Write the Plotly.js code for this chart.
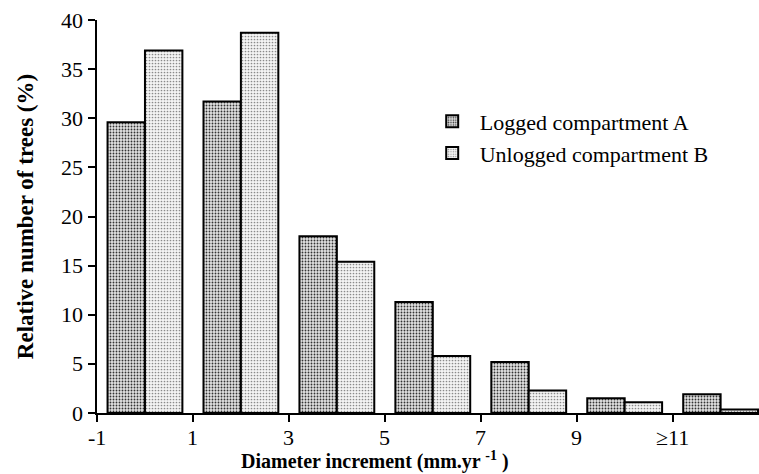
<!DOCTYPE html>
<html>
<head>
<meta charset="utf-8">
<script src="https://cdn.plot.ly/plotly-3.0.1.min.js"></script>
<style>html,body{margin:0;padding:0;background:#fff;}#chart{width:759px;height:474px;}</style>
</head>
<body>
<div id="chart"></div>
<script>
// Diameter increment classes (centre of each pair of bars)
var classCentres = [0, 2, 4, 6, 8, 10, 12];
var loggedA = [29.6, 31.7, 18.0, 11.3, 5.2, 1.5, 1.9];
var unloggedB = [36.9, 38.7, 15.4, 5.8, 2.3, 1.1, 0.35];
var tickValues = [-1, 1, 3, 5, 7, 9, 11];
var tickLabels = ['-1', '1', '3', '5', '7', '9', '\u226511'];
var yTickValues = [0, 5, 10, 15, 20, 25, 30, 35, 40];
var yTickLabels = ['0', '5', '10', '15', '20', '25', '30', '35', '40'];
var seriesNames = ['Logged compartment A', 'Unlogged compartment B'];

var serif = 'Liberation Serif';
var labelFont = {family: serif, size: 22, color: '#000'};

var traces = [
  {
    type: 'bar', x: classCentres, y: loggedA, name: seriesNames[0],
    marker: {
      color: '#c4c4c4',
      line: {color: '#000', width: 2},
      pattern: {shape: '.', fgcolor: '#333', bgcolor: '#e2e2e2', size: 3, solidity: 0.3}
    }
  },
  {
    type: 'bar', x: classCentres, y: unloggedB, name: seriesNames[1],
    marker: {
      color: '#e8e8e8',
      line: {color: '#000', width: 2},
      pattern: {shape: '.', fgcolor: '#8a8a8a', bgcolor: '#f4f4f4', size: 3, solidity: 0.25}
    }
  }
];

var annotations = [];
tickValues.forEach(function (v, i) {
  annotations.push({xref: 'x', yref: 'paper', x: v, y: 0, yshift: -10, xanchor: 'center', yanchor: 'top',
    showarrow: false, text: tickLabels[i], font: labelFont});
});
yTickValues.forEach(function (v, i) {
  annotations.push({xref: 'paper', yref: 'y', x: 0, y: v, xshift: -12, xanchor: 'right', yanchor: 'middle',
    showarrow: false, text: yTickLabels[i], font: labelFont});
});
annotations.push({
  xref: 'paper', yref: 'paper', x: 0.42, y: -0.122, xanchor: 'center', yanchor: 'middle',
  showarrow: false, text: '<b>Diameter increment (mm.yr <sup>-1</sup> )</b>',
  font: {family: serif, size: 20, color: '#000'}
});

var layout = {
  width: 759, height: 474,
  margin: {l: 97, r: 0, t: 20, b: 61},
  paper_bgcolor: '#fff', plot_bgcolor: '#fff',
  barmode: 'group', bargap: 0.22, bargroupgap: 0,
  font: {family: serif, color: '#000', size: 22},
  showlegend: true,
  legend: {
    x: 0.495, y: 0.795, xanchor: 'left', yanchor: 'top',
    font: {family: serif, size: 22, color: '#000'},
    bgcolor: 'rgba(0,0,0,0)', itemwidth: 45, tracegroupgap: 10
  },
  xaxis: {
    range: [-1, 12.8], tickmode: 'array', tickvals: tickValues, ticktext: tickLabels,
    showticklabels: false,
    showline: true, linecolor: '#000', linewidth: 2, mirror: false,
    ticks: 'outside', ticklen: 7, tickwidth: 2, tickcolor: '#000',
    showgrid: false, zeroline: false
  },
  yaxis: {
    range: [0, 40], tickmode: 'array', tickvals: yTickValues, ticktext: yTickLabels,
    showticklabels: false,
    showline: true, linecolor: '#000', linewidth: 2,
    ticks: 'outside', ticklen: 7, tickwidth: 2, tickcolor: '#000',
    showgrid: false, zeroline: false,
    title: {text: '<b>Relative number of trees (%)</b>', font: {family: serif, size: 23, color: '#000'}, standoff: 48}
  },
  annotations: annotations
};

Plotly.newPlot('chart', traces, layout, {displayModeBar: false, staticPlot: true});
</script>
</body>
</html>
